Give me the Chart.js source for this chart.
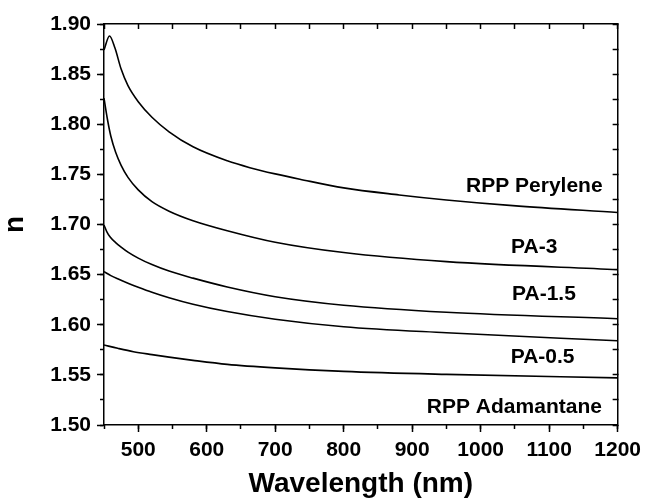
<!DOCTYPE html>
<html>
<head>
<meta charset="utf-8">
<script src="https://cdn.jsdelivr.net/npm/chart.js@4/dist/chart.umd.min.js"></script>
<style>
  html, body { margin: 0; padding: 0; background: #fff; }
  canvas { display: block; }
</style>
</head>
<body>
<canvas id="chart" width="647" height="501"></canvas>
<script>
// Refractive index dispersion, n(λ), for five films
const seriesNames = ['RPP Perylene', 'PA-3', 'PA-1.5', 'PA-0.5', 'RPP Adamantane'];

const wlPerylene = [450, 458, 466, 475, 485, 500, 520, 545, 580, 630, 663, 700, 736, 800, 881, 950, 1047, 1200];
const nPerylene  = [1.874, 1.888, 1.876, 1.855, 1.8385, 1.8225, 1.807, 1.7925, 1.7775, 1.7635, 1.7567, 1.7505, 1.7452, 1.7365, 1.7295, 1.7245, 1.7188, 1.712];

const wlPA3 = [450, 455, 460, 467, 475, 485, 500, 520, 545, 580, 630, 700, 800, 950, 1200];
const nPA3  = [1.826, 1.805, 1.788, 1.772, 1.759, 1.747, 1.7345, 1.7228, 1.7133, 1.7038, 1.6938, 1.6823, 1.672, 1.663, 1.655];

const wlPA15 = [450, 454, 459, 467, 475, 485, 500, 520, 545, 580, 630, 700, 800, 950, 1200];
const nPA15  = [1.6995, 1.693, 1.6875, 1.682, 1.6775, 1.6725, 1.6665, 1.660, 1.6535, 1.6465, 1.6377, 1.628, 1.6195, 1.6125, 1.606];

const wlPA05 = [450, 460, 470, 485, 500, 520, 545, 580, 630, 700, 800, 950, 1200];
const nPA05  = [1.653, 1.649, 1.6458, 1.6415, 1.6375, 1.6325, 1.627, 1.6205, 1.6132, 1.6055, 1.598, 1.592, 1.584];

const wlAdamantane = [450, 470, 493, 520, 545, 580, 630, 700, 800, 950, 1200];
const nAdamantane  = [1.5798, 1.5765, 1.5731, 1.5702, 1.5677, 1.5645, 1.5605, 1.557, 1.5535, 1.5505, 1.547];

// Axis tick stops
const xMajorTicks = [500, 600, 700, 800, 900, 1000, 1100, 1200];
const xMinorTicks = [450, 500, 550, 600, 650, 700, 750, 800, 850, 900, 950, 1000, 1050, 1100, 1150, 1200];
const yMajorTicks = [1.50, 1.55, 1.60, 1.65, 1.70, 1.75, 1.80, 1.85, 1.90];
const yMinorTicks = [1.500, 1.525, 1.550, 1.575, 1.600, 1.625, 1.650, 1.675, 1.700, 1.725, 1.750, 1.775, 1.800, 1.825, 1.850, 1.875, 1.900];

const seriesX = [wlPerylene, wlPA3, wlPA15, wlPA05, wlAdamantane];
const seriesY = [nPerylene, nPA3, nPA15, nPA05, nAdamantane];

const FONT = "'Liberation Sans', Arial, Helvetica, sans-serif";
Chart.defaults.font.family = FONT;
Chart.defaults.color = '#000';

const toPoints = (xs, ys) => xs.map((v, i) => ({ x: v, y: ys[i] }));
const useTicks = list => scale => { scale.ticks = list.map(v => ({ value: v })); };

// Curve names written under each line, anchored in data units (right-aligned)
const curveLabelPlugin = {
  id: 'curveLabels',
  afterDatasetsDraw(chart, args, opts) {
    const { ctx, scales } = chart;
    ctx.save();
    ctx.font = 'bold 21px ' + FONT;
    ctx.fillStyle = '#000';
    ctx.textAlign = 'right';
    ctx.textBaseline = 'middle';
    opts.items.forEach(it => {
      ctx.fillText(it.text, scales.x.getPixelForValue(it.x), scales.y.getPixelForValue(it.y));
    });
    ctx.restore();
  }
};

const tickFont = { size: 21, weight: 'bold' };
const frame = { display: true, color: '#000', width: 1.5 };

new Chart(document.getElementById('chart'), {
  type: 'line',
  data: {
    datasets: seriesNames.map((name, i) => ({
      label: name,
      data: toPoints(seriesX[i], seriesY[i]),
      borderColor: '#000',
      borderWidth: 1.6,
      pointRadius: 0,
      fill: false,
      cubicInterpolationMode: 'monotone'
    }))
  },
  options: {
    responsive: false,
    animation: false,
    devicePixelRatio: 1,
    layout: { padding: { top: 24, right: 29, left: 0, bottom: 0 } },
    plugins: {
      legend: { display: false },
      tooltip: { enabled: false },
      curveLabels: {
        items: [
          { text: 'RPP Perylene',   x: 1178, y: 1.738 },
          { text: 'PA-3',           x: 1112, y: 1.677 },
          { text: 'PA-1.5',         x: 1139, y: 1.630 },
          { text: 'PA-0.5',         x: 1137, y: 1.568 },
          { text: 'RPP Adamantane', x: 1177, y: 1.518 }
        ]
      }
    },
    scales: {
      x: {
        type: 'linear', position: 'bottom', min: 450, max: 1200, weight: 1,
        afterBuildTicks: useTicks(xMajorTicks),
        afterFit: s => { s.height = 76; },
        ticks: { font: tickFont, color: '#000', padding: 6, maxRotation: 0, autoSkip: false, callback: v => String(v) },
        grid: { drawOnChartArea: false, tickLength: 7, tickWidth: 1.5, tickColor: '#000' },
        border: frame,
        title: { display: true, text: 'Wavelength (nm)', color: '#000', font: { size: 28, weight: 'bold' }, padding: { top: 0, bottom: 0 } }
      },
      xMinor: {
        type: 'linear', position: 'bottom', min: 450, max: 1200, weight: 0,
        afterBuildTicks: useTicks(xMinorTicks),
        afterFit: s => { s.height = 0; },
        ticks: { display: false },
        grid: { drawOnChartArea: false, tickLength: 4, tickWidth: 1.5, tickColor: '#000' },
        border: { display: false }
      },
      xTop: {
        type: 'linear', position: 'top', min: 450, max: 1200,
        afterBuildTicks: useTicks(xMinorTicks),
        afterFit: s => { s.height = 0; },
        ticks: { display: false },
        grid: { drawOnChartArea: false, tickLength: -5, tickWidth: 1.5, tickColor: '#000' },
        border: frame
      },
      y: {
        type: 'linear', position: 'left', min: 1.50, max: 1.90, weight: 1,
        afterBuildTicks: useTicks(yMajorTicks),
        afterFit: s => { s.width = 104; },
        ticks: { font: tickFont, color: '#000', padding: 6, autoSkip: false, callback: v => v.toFixed(2) },
        grid: { drawOnChartArea: false, tickLength: 7, tickWidth: 1.5, tickColor: '#000' },
        border: frame,
        title: { display: true, text: 'n', color: '#000', font: { size: 28, weight: 'bold', lineHeight: 1 }, padding: { top: 1, bottom: 0 } }
      },
      yMinor: {
        type: 'linear', position: 'left', min: 1.50, max: 1.90, weight: 0,
        afterBuildTicks: useTicks(yMinorTicks),
        afterFit: s => { s.width = 0; },
        ticks: { display: false },
        grid: { drawOnChartArea: false, tickLength: 4, tickWidth: 1.5, tickColor: '#000' },
        border: { display: false }
      },
      yRight: {
        type: 'linear', position: 'right', min: 1.50, max: 1.90,
        afterBuildTicks: useTicks(yMinorTicks),
        afterFit: s => { s.width = 0; },
        ticks: { display: false },
        grid: { drawOnChartArea: false, tickLength: -5, tickWidth: 1.5, tickColor: '#000' },
        border: frame
      }
    }
  },
  plugins: [curveLabelPlugin]
});
</script>
</body>
</html>
